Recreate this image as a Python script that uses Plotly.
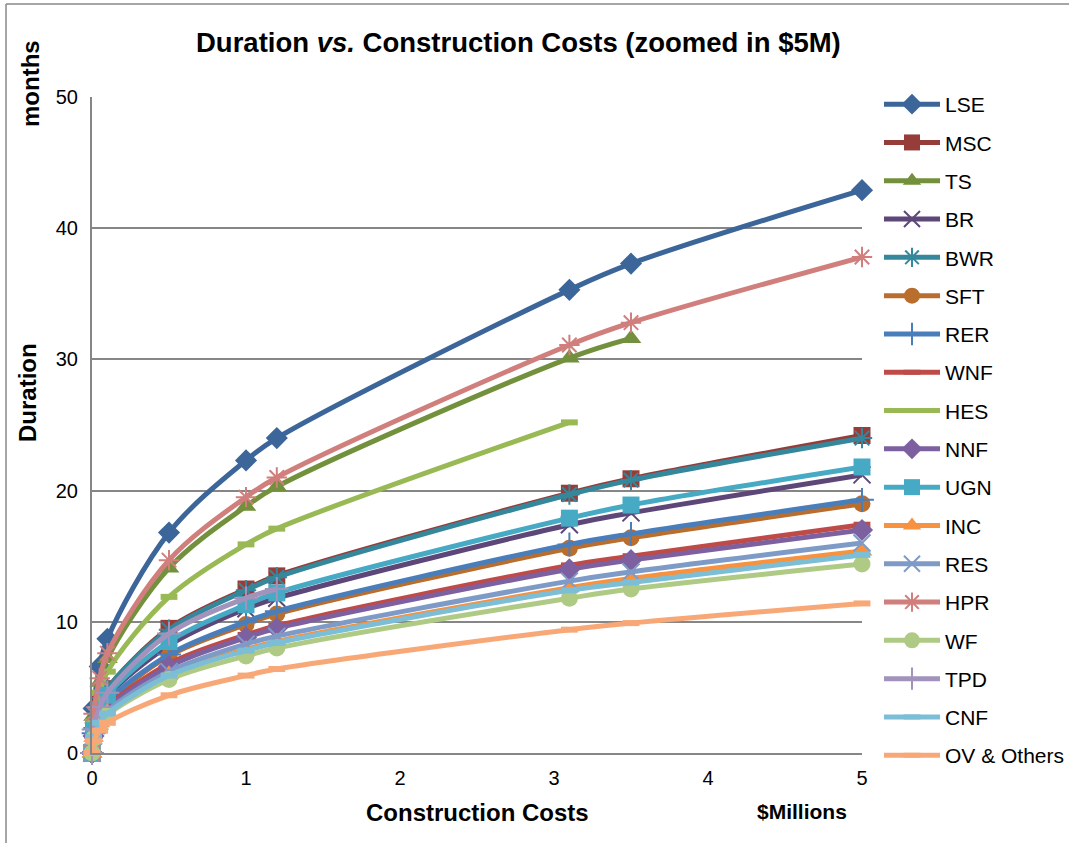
import plotly.graph_objects as go

# Construction cost points ($ millions)
cost = [0, 0.01, 0.05, 0.1, 0.5, 1, 1.2, 3.1, 3.5, 5]

series_names = ["LSE", "MSC", "TS", "BR", "BWR", "SFT", "RER", "WNF", "HES",
                "NNF", "UGN", "INC", "RES", "HPR", "WF", "TPD", "CNF", "OV & Others"]

LSE = [0, 3.4, 6.6, 8.7, 16.8, 22.3, 24.0, 35.3, 37.3, 42.9]
MSC = [0, 1.9, 3.7, 4.9, 9.5, 12.5, 13.5, 19.8, 20.9, 24.2]
TS = [0, 2.8, 5.4, 7.2, 14.1, 18.8, 20.3, 30.1, 31.6]
BR = [0, 1.7, 3.2, 4.3, 8.2, 11.0, 11.8, 17.4, 18.3, 21.2]
BWR = [0, 1.9, 3.7, 4.9, 9.4, 12.4, 13.4, 19.7, 20.8, 24.0]
SFT = [0, 1.5, 2.9, 3.8, 7.4, 9.8, 10.6, 15.6, 16.4, 19.0]
RER = [0, 1.5, 2.9, 3.9, 7.5, 10.0, 10.8, 15.9, 16.7, 19.3]
WNF = [0, 1.4, 2.6, 3.5, 6.8, 9.0, 9.7, 14.3, 15.0, 17.4]
HES = [0, 2.4, 4.6, 6.2, 11.9, 15.9, 17.1, 25.2]
NNF = [0, 1.3, 2.6, 3.4, 6.6, 8.8, 9.5, 14.0, 14.7, 17.0]
UGN = [0, 1.7, 3.3, 4.4, 8.5, 11.3, 12.2, 17.9, 18.9, 21.8]
INC = [0, 1.2, 2.3, 3.1, 6.0, 7.9, 8.5, 12.6, 13.3, 15.4]
RES = [0, 1.3, 2.4, 3.2, 6.2, 8.3, 8.9, 13.1, 13.8, 16.0]
HPR = [0, 3.0, 5.7, 7.6, 14.7, 19.5, 21.0, 31.1, 32.8, 37.8]
WF = [0, 1.1, 2.2, 2.9, 5.6, 7.4, 8.0, 11.8, 12.5, 14.4]
TPD = [0, 1.8, 3.5, 4.6, 9.1, 11.8, 12.5]
CNF = [0, 1.2, 2.3, 3.0, 5.9, 7.8, 8.4, 12.4, 13.0, 15.1]
OV = [0, 0.9, 1.7, 2.3, 4.4, 5.9, 6.4, 9.4, 9.9, 11.4]

y_ticks = [0, 10, 20, 30, 40, 50]
x_ticks = [0, 1, 2, 3, 4, 5]

values = [LSE, MSC, TS, BR, BWR, SFT, RER, WNF, HES, NNF, UGN, INC, RES, HPR, WF, TPD, CNF, OV]

colors = ["#3C6699", "#963D3A", "#73913C", "#5D4779", "#35879B", "#BA6E2E",
          "#4A7EBB", "#BE4B48", "#98B954", "#7D60A0", "#46AAC5", "#F69240",
          "#7E9BC8", "#D07F7C", "#AFCA85", "#A293BC", "#7CBED6", "#F8A877"]

symbols = ["diamond", "square", "triangle-up", "x-thin", "asterisk", "circle",
           "cross-thin", "line-ew", "line-ew", "diamond", "square", "triangle-up",
           "x-thin", "asterisk", "circle", "cross-thin", "line-ew", "line-ew"]

line_symbols = {"x-thin", "asterisk", "cross-thin", "line-ew"}

fig = go.Figure()
for name, vals, col, sym in zip(series_names, values, colors, symbols):
    if sym == "line-ew":
        marker = dict(symbol=sym, size=12, color=col, line=dict(color=col, width=6))
    elif sym in line_symbols:
        marker = dict(symbol=sym, size=17, color=col, line=dict(color=col, width=2))
    else:
        marker = dict(symbol=sym, size=17 if sym != "triangle-up" else 18, color=col,
                      line=dict(width=0))
    fig.add_trace(go.Scatter(
        x=cost[:len(vals)], y=vals, name=name, mode="lines+markers",
        line=dict(color=col, width=5, shape="spline", smoothing=1.0),
        marker=marker, legendgroup=name, cliponaxis=False,
    ))

W, H = 1069, 843
L, R, T, B = 92, 862, 97, 753
pw, ph = R - L, B - T


def px(x):
    return (x - L) / pw


def py(y):
    return (B - y) / ph


font_family = "Liberation Sans, Arial, sans-serif"

fig.update_layout(
    width=W, height=H,
    margin=dict(l=L, r=W - R, t=T, b=H - B, pad=0, autoexpand=False),
    paper_bgcolor="white", plot_bgcolor="white",
    font=dict(family=font_family, size=20, color="black"),
    showlegend=True,
    legend=dict(x=px(879), y=py(84), xanchor="left", yanchor="top",
                font=dict(size=21, family=font_family, color="black"),
                tracegroupgap=8, itemwidth=56, bgcolor="rgba(0,0,0,0)",
                traceorder="grouped", maxheight=840),
    xaxis=dict(range=[0, 5], tickvals=x_ticks, ticktext=[str(t) for t in x_ticks],
               showgrid=False, zeroline=False, showline=True, linecolor="#868686",
               linewidth=2, ticks="", tickfont=dict(size=20), ticklabelstandoff=6),
    yaxis=dict(range=[0, 50], tickvals=y_ticks, ticktext=[str(t) for t in y_ticks],
               showgrid=True, gridcolor="#868686", gridwidth=1.6, zeroline=False,
               showline=True, linecolor="#868686", linewidth=2, ticks="",
               tickfont=dict(size=20), ticklabelstandoff=8),
    annotations=[
        dict(text="<b>Duration <i>vs.</i> Construction Costs (zoomed in $5M)</b>",
             x=px(518), y=py(42), xref="paper", yref="paper", showarrow=False,
             xanchor="center", yanchor="middle", font=dict(size=27.5)),
        dict(text="<b>Duration</b>", x=px(27), y=py(393), xref="paper", yref="paper",
             showarrow=False, textangle=-90, xanchor="center", yanchor="middle",
             font=dict(size=24)),
        dict(text="<b>months</b>", x=px(30), y=py(84), xref="paper", yref="paper",
             showarrow=False, textangle=-90, xanchor="center", yanchor="middle",
             font=dict(size=24)),
        dict(text="<b>Construction Costs</b>", x=px(477), y=py(812), xref="paper",
             yref="paper", showarrow=False, xanchor="center", yanchor="middle",
             font=dict(size=24)),
        dict(text="<b>$Millions</b>", x=px(802), y=py(811), xref="paper",
             yref="paper", showarrow=False, xanchor="center", yanchor="middle",
             font=dict(size=21)),
    ],
    shapes=[
        dict(type="line", xref="paper", yref="paper", x0=px(6), x1=px(1075),
             y0=py(4), y1=py(4), line=dict(color="#888888", width=1.5)),
        dict(type="line", xref="paper", yref="paper", x0=px(6), x1=px(6),
             y0=py(4), y1=py(850), line=dict(color="#888888", width=1.5)),
    ],
)

fig.write_html("out.html", config={"displayModeBar": False},
               post_script="document.body.style.margin='0';")
